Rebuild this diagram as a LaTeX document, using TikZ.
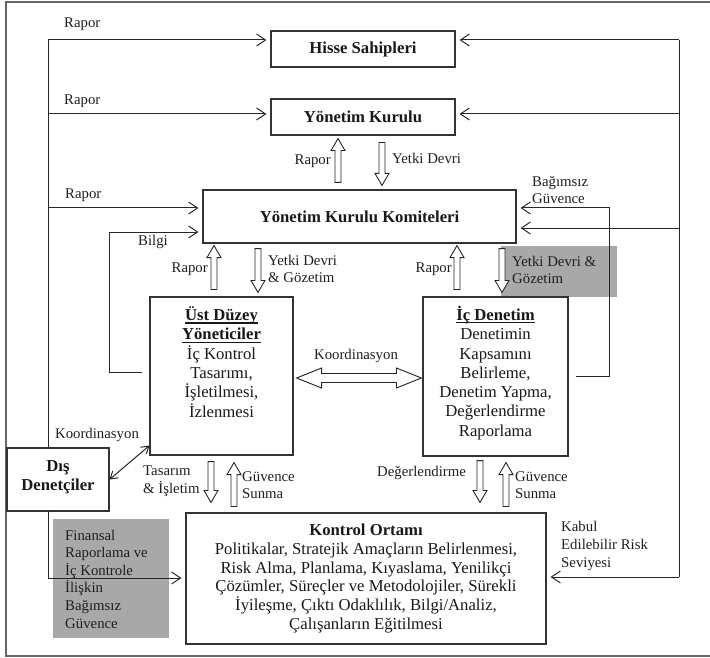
\documentclass[tikz,border=0pt]{standalone}
\usepackage{fontspec}
\setmainfont{Liberation Serif}
\usetikzlibrary{calc,arrows.meta}
\newcommand{\tul}[1]{\leavevmode\setbox0=\hbox{#1}\rlap{\rule[-3pt]{\wd0}{1.4pt}}\box0}
\begin{document}
\begin{tikzpicture}[x=1pt,y=-1pt,
  box/.style={draw=black!80, line width=1.1pt, inner sep=0pt, fill=white},
  btext/.style={font=\fontsize{16.7}{19.3}\selectfont, align=center, inner sep=0pt, text=black!90},
  bbtext/.style={font=\fontsize{16.7}{19.3}\selectfont\bfseries, align=center, inner sep=0pt, text=black!90},
  lbl/.style={font=\fontsize{14.8}{17.6}\selectfont, inner sep=0pt, align=left, text=black!88},
  ln/.style={draw=black!85, line width=1pt},
  arr/.style={draw=black!85, line width=1pt, -{Straight Barb[length=9pt,width=12pt]}, shorten >=4pt},
  darr/.style={draw=black!85, line width=1pt, {Straight Barb[length=7pt,width=9pt]}-{Straight Barb[length=7pt,width=9pt]}},
  grayfill/.style={fill=black!34, draw=none},
  hollow/.style={fill=white, draw=black!85, line width=0.9pt, to path={
    let \p1=(\tikztostart), \p2=(\tikztotarget),
        \n1={veclen(\x2-\x1,\y2-\y1)},
        \n2={(\x2-\x1)/\n1}, \n3={(\y2-\y1)/\n1}
    in ({\x1-(\n3)*3},{\y1+(\n2)*3})
    -- ({\x2-(\n2)*12-(\n3)*3},{\y2-(\n3)*12+(\n2)*3})
    -- ({\x2-(\n2)*12-(\n3)*7},{\y2-(\n3)*12+(\n2)*7})
    -- (\p2)
    -- ({\x2-(\n2)*12+(\n3)*7},{\y2-(\n3)*12-(\n2)*7})
    -- ({\x2-(\n2)*12+(\n3)*3},{\y2-(\n3)*12-(\n2)*3})
    -- ({\x1+(\n3)*3},{\y1-(\n2)*3}) -- cycle}},
  dhollow/.style={fill=white, draw=black!85, line width=0.9pt, to path={
    let \p1=(\tikztostart), \p2=(\tikztotarget),
        \n1={veclen(\x2-\x1,\y2-\y1)},
        \n2={(\x2-\x1)/\n1}, \n3={(\y2-\y1)/\n1}
    in (\p1)
    -- ({\x1+(\n2)*25-(\n3)*10},{\y1+(\n3)*25+(\n2)*10})
    -- ({\x1+(\n2)*25-(\n3)*4.5},{\y1+(\n3)*25+(\n2)*4.5})
    -- ({\x2-(\n2)*25-(\n3)*4.5},{\y2-(\n3)*25+(\n2)*4.5})
    -- ({\x2-(\n2)*25-(\n3)*10},{\y2-(\n3)*25+(\n2)*10})
    -- (\p2)
    -- ({\x2-(\n2)*25+(\n3)*10},{\y2-(\n3)*25-(\n2)*10})
    -- ({\x2-(\n2)*25+(\n3)*4.5},{\y2-(\n3)*25-(\n2)*4.5})
    -- ({\x1+(\n2)*25+(\n3)*4.5},{\y1+(\n3)*25-(\n2)*4.5})
    -- ({\x1+(\n2)*25+(\n3)*10},{\y1+(\n3)*25-(\n2)*10}) -- cycle}}
]
\useasboundingbox (0,0) rectangle (710,658);
\fill[white] (0,0) rectangle (710,658);
% outer frame
\draw[black!60, line width=1.5pt] (714,2) -- (6,2) -- (6,656) -- (714,656);

% gray boxes
\fill[grayfill] (501,246) rectangle (617,297);
\fill[grayfill] (53,519) rectangle (169,638);

% boxes
\node[box, bbtext, minimum width=184pt, minimum height=36pt] (hs) at (363,49) {Hisse Sahipleri};
\node[box, bbtext, minimum width=184pt, minimum height=36pt] (yk) at (363,117) {Yönetim Kurulu};
\node[box, bbtext, minimum width=313pt, minimum height=53pt] (ykk) at (359.5,216.5) {Yönetim Kurulu Komiteleri};
\node[box, minimum width=143pt, minimum height=158pt] (usd) at (221.5,376) {};
\node[box, minimum width=145pt, minimum height=159pt] (icd) at (495.5,376.5) {};
\node[box, minimum width=102pt, minimum height=63pt] (dis) at (58,479.5) {};
\node[box, minimum width=360pt, minimum height=131pt] (ko) at (366,578.5) {};

% coordinates
\coordinate (L1) at (48,40);
\coordinate (L2) at (48,114);
\coordinate (L3) at (48,208);
\coordinate (L4) at (48,578);
\coordinate (R1) at (679,40);
\coordinate (R2) at (679,114);
\coordinate (R3) at (679,228);
\coordinate (R4) at (679,577);
\coordinate (B1) at (576,376);
\coordinate (B2) at (609,208);
\coordinate (bs) at (142,372);
\coordinate (bt) at (109,232);
\coordinate (ky) at (0,378);
\coordinate (a1) at (338,0);
\coordinate (a2) at (382,0);
\coordinate (a3) at (214,0);
\coordinate (a4) at (258,0);
\coordinate (a5) at (457,0);
\coordinate (a6) at (502,0);
\coordinate (a7) at (211,0);
\coordinate (a8) at (234,0);
\coordinate (a9) at (480,0);
\coordinate (a10) at (506,0);

% left report lines
\draw[ln] (dis.north-|L1) -- (L1);
\draw[arr] (L1) -- (hs.west|-L1);
\draw[arr] (L2) -- (yk.west|-L2);
\draw[arr] (L3) -- (ykk.west|-L3);
% right lines
\draw[ln] (R1) -- (R4);
\draw[arr] (R1) -- (hs.east|-R1);
\draw[arr] (R2) -- (yk.east|-R2);
\draw[arr] (R3) -- (ykk.east|-R3);
\draw[arr] (R4) -- (ko.east|-R4);
% bagimsiz guvence
\draw[arr] (B1) -| (B2) -- (ykk.east|-B2);
% bilgi
\draw[arr] (bs) -| (bt) -- (ykk.west|-bt);
% dis denetciler
\draw[arr] (dis.south-|L4) -- (L4) -- (ko.west|-L4);
\draw[darr] (dis.east) -- ($(usd.south west)+(0,-10)$);

% hollow arrows
\draw[hollow] ($(ykk.north-|a1)+(0,-7)$) to ($(yk.south-|a1)+(0,3)$);
\draw[hollow] ($(yk.south-|a2)+(0,7)$) to ($(ykk.north-|a2)+(0,-4)$);
\draw[hollow] ($(usd.north-|a3)+(0,-7)$) to ($(ykk.south-|a3)+(0,2)$);
\draw[hollow] ($(ykk.south-|a4)+(0,5)$) to ($(usd.north-|a4)+(0,-4)$);
\draw[hollow] ($(icd.north-|a5)+(0,-7)$) to ($(ykk.south-|a5)+(0,2)$);
\draw[hollow] ($(ykk.south-|a6)+(0,5)$) to ($(icd.north-|a6)+(0,-4)$);
\draw[hollow] ($(usd.south-|a7)+(0,6)$) to ($(ko.north-|a7)+(0,-10)$);
\draw[hollow] ($(ko.north-|a8)+(0,-6)$) to ($(usd.south-|a8)+(0,7)$);
\draw[hollow] ($(icd.south-|a9)+(0,4)$) to ($(ko.north-|a9)+(0,-10)$);
\draw[hollow] ($(ko.north-|a10)+(0,-6)$) to ($(icd.south-|a10)+(0,6)$);
\draw[dhollow] ($(usd.east|-ky)+(3,0)$) to ($(icd.west|-ky)+(-1,0)$);

% box texts
\node[btext] (usdt) at (221.5,362) {\tul{\textbf{Üst Düzey}}\\\tul{\textbf{Yöneticiler}}\\İç Kontrol\\Tasarımı,\\İşletilmesi,\\İzlenmesi};
\node[btext] (icdt) at (495.5,373) {\tul{\textbf{İç Denetim}}\\Denetimin\\Kapsamını\\Belirleme,\\Denetim Yapma,\\Değerlendirme\\Raporlama};
\node[bbtext] (dist) at (58,477) {Dış\\Denetçiler};
\node[btext, font=\fontsize{16.7}{18.9}\selectfont] (kot) at (366,578.5) {\textbf{Kontrol Ortamı}\\Politikalar, Stratejik Amaçların Belirlenmesi,\\Risk Alma, Planlama, Kıyaslama, Yenilikçi\\Çözümler, Süreçler ve Metodolojiler, Sürekli\\İyileşme, Çıktı Odaklılık, Bilgi/Analiz,\\Çalışanların Eğitilmesi};

% labels
\node[lbl, anchor=west] (l1) at (64,24) {Rapor};
\node[lbl, anchor=west] (l2) at (64,101) {Rapor};
\node[lbl, anchor=west] (l3) at (65,195) {Rapor};
\node[lbl, anchor=east] (l4) at (331,161) {Rapor};
\node[lbl, anchor=west] (l5) at (392,158) {Yetki Devri};
\node[lbl, anchor=west] (l6) at (532,190) {Bağımsız\\Güvence};
\node[lbl, anchor=west] (l7) at (138,242) {Bilgi};
\node[lbl, anchor=east] (l8) at (208,269) {Rapor};
\node[lbl, anchor=west] (l9) at (268,269) {Yetki Devri\\\& Gözetim};
\node[lbl, anchor=east] (l10) at (452,269) {Rapor};
\node[lbl, anchor=west] (l11) at (512,270) {Yetki Devri \&\\Gözetim};
\node[lbl] (l12) at (356,356) {Koordinasyon};
\node[lbl] (l13) at (97,435) {Koordinasyon};
\node[lbl, anchor=west] (l14) at (143,481) {Tasarım\\\& İşletim};
\node[lbl, anchor=west] (l15) at (242,485) {Güvence\\Sunma};
\node[lbl, anchor=west] (l16) at (377,473) {Değerlendirme};
\node[lbl, anchor=west] (l17) at (515,485) {Güvence\\Sunma};
\node[lbl, anchor=west] (l18) at (561,546) {Kabul\\Edilebilir Risk\\Seviyesi};
\node[lbl, anchor=west] (l19) at (65,579) {Finansal\\Raporlama ve\\İç Kontrole\\İlişkin\\Bağımsız\\Güvence};
\end{tikzpicture}
\end{document}
